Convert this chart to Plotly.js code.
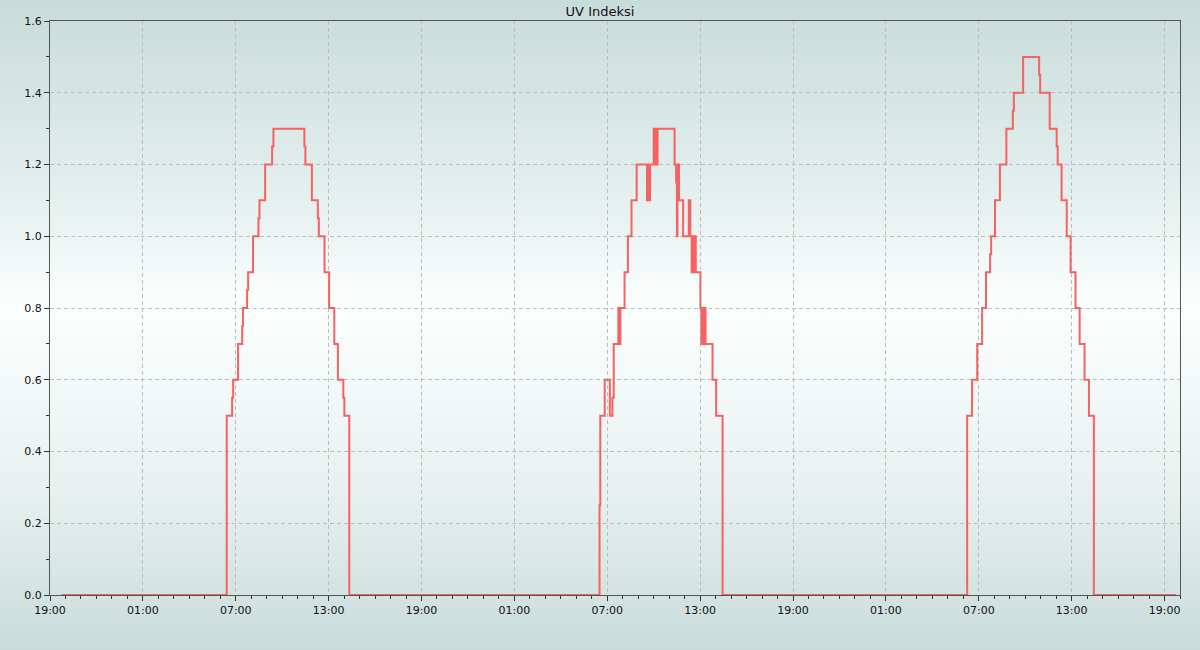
<!DOCTYPE html>
<html>
<head>
<meta charset="utf-8">
<script src="https://cdn.plot.ly/plotly-3.0.1.min.js"></script>
<style>
  html, body { margin: 0; padding: 0; }
  body { width: 1200px; height: 650px; background: linear-gradient(to bottom, #c8dcda 0%, #e4efee 30%, #fbfffe 47%, #e8f1f0 75%, #c8dcda 100%); }
  #chart { width: 1200px; height: 650px; }
</style>
</head>
<body>
<div id="chart"></div>
<script>
// Sample times (step changes) and UV index values
const times = [
  "2024-06-10 19:45",
  // Day 1
  "2024-06-11 06:25", "2024-06-11 06:46", "2024-06-11 06:50", "2024-06-11 07:09",
  "2024-06-11 07:25", "2024-06-11 07:28", "2024-06-11 07:44", "2024-06-11 07:48",
  "2024-06-11 08:07", "2024-06-11 08:28", "2024-06-11 08:32", "2024-06-11 08:54",
  "2024-06-11 09:21", "2024-06-11 09:26", "2024-06-11 11:26", "2024-06-11 11:30",
  "2024-06-11 11:55", "2024-06-11 12:18", "2024-06-11 12:22", "2024-06-11 12:44",
  "2024-06-11 13:02", "2024-06-11 13:22", "2024-06-11 13:36", "2024-06-11 13:57",
  "2024-06-11 14:01", "2024-06-11 14:20",
  // Day 2
  "2024-06-12 06:30", "2024-06-12 06:33", "2024-06-12 06:50", "2024-06-12 07:10",
  "2024-06-12 07:20", "2024-06-12 07:25", "2024-06-12 07:43", "2024-06-12 07:47",
  "2024-06-12 07:51", "2024-06-12 08:07", "2024-06-12 08:20", "2024-06-12 08:34",
  "2024-06-12 08:54", "2024-06-12 09:34", "2024-06-12 09:38", "2024-06-12 09:42",
  "2024-06-12 09:46", "2024-06-12 10:00", "2024-06-12 10:06", "2024-06-12 10:09",
  "2024-06-12 10:12", "2024-06-12 10:15", "2024-06-12 10:18", "2024-06-12 11:21",
  "2024-06-12 11:27", "2024-06-12 11:30", "2024-06-12 11:32", "2024-06-12 11:34",
  "2024-06-12 11:36", "2024-06-12 11:38", "2024-06-12 11:54", "2024-06-12 12:16",
  "2024-06-12 12:22", "2024-06-12 12:27", "2024-06-12 12:31", "2024-06-12 12:35",
  "2024-06-12 12:39", "2024-06-12 12:43", "2024-06-12 13:01", "2024-06-12 13:05",
  "2024-06-12 13:09", "2024-06-12 13:13", "2024-06-12 13:17", "2024-06-12 13:21",
  "2024-06-12 13:48", "2024-06-12 14:02", "2024-06-12 14:27",
  // Day 3
  "2024-06-13 06:15", "2024-06-13 06:34", "2024-06-13 06:54", "2024-06-13 07:13",
  "2024-06-13 07:28", "2024-06-13 07:44", "2024-06-13 07:48", "2024-06-13 08:03",
  "2024-06-13 08:22", "2024-06-13 08:47", "2024-06-13 09:12", "2024-06-13 09:16",
  "2024-06-13 09:52", "2024-06-13 10:54", "2024-06-13 10:58", "2024-06-13 11:35",
  "2024-06-13 12:02", "2024-06-13 12:06", "2024-06-13 12:21", "2024-06-13 12:41",
  "2024-06-13 12:56", "2024-06-13 13:15", "2024-06-13 13:31", "2024-06-13 13:50",
  "2024-06-13 14:07", "2024-06-13 14:26",
  "2024-06-13 19:45"
];
const uvIndex = [
  0,
  // Day 1
  0.5, 0.55, 0.6, 0.7,
  0.75, 0.8, 0.85, 0.9,
  1.0, 1.05, 1.1, 1.2,
  1.25, 1.3, 1.25, 1.2,
  1.1, 1.05, 1.0, 0.9,
  0.8, 0.7, 0.6, 0.55,
  0.5, 0,
  // Day 2
  0.25, 0.5, 0.6, 0.5,
  0.55, 0.7, 0.8, 0.7,
  0.8, 0.9, 1.0, 1.1,
  1.2, 1.1, 1.2, 1.1,
  1.2, 1.3, 1.2, 1.3,
  1.2, 1.3, 1.3, 1.2,
  1.15, 1.0, 1.2, 1.1,
  1.2, 1.1, 1.0, 1.1,
  1.0, 0.9, 1.0, 0.9,
  1.0, 0.9, 0.8, 0.7,
  0.8, 0.7, 0.8, 0.7,
  0.6, 0.5, 0,
  // Day 3
  0.5, 0.6, 0.7, 0.8,
  0.9, 0.95, 1.0, 1.1,
  1.2, 1.3, 1.35, 1.4,
  1.5, 1.45, 1.4, 1.3,
  1.25, 1.2, 1.1, 1.0,
  0.9, 0.8, 0.7, 0.6,
  0.5, 0,
  0
];
const chartTitle = "UV Indeksi";
const xRange = ["2024-06-10 19:00", "2024-06-13 20:00"];
const yRange = [0, 1.6];

const font = "DejaVu Sans, Verdana, sans-serif";

Plotly.newPlot("chart", [{
  x: times,
  y: uvIndex,
  type: "scatter",
  mode: "lines",
  line: { shape: "hv", color: "#f46262", width: 2 },
  hoverinfo: "x+y"
}], {
  width: 1200,
  height: 650,
  paper_bgcolor: "rgba(0,0,0,0)",
  plot_bgcolor: "rgba(0,0,0,0)",
  margin: { l: 50, r: 20, t: 21, b: 55, pad: 0 },
  showlegend: false,
  font: { family: font, size: 11, color: "#111" },
  title: {
    text: chartTitle,
    font: { family: font, size: 13, color: "#111" },
    x: 0.5, xanchor: "center",
    y: 1 - 11 / 650, yref: "container", yanchor: "middle"
  },
  xaxis: {
    type: "date",
    range: xRange,
    tick0: "2024-06-10 19:00",
    dtick: 6 * 3600 * 1000,
    tickformat: "%H:%M",
    ticks: "outside",
    ticklen: 5,
    tickcolor: "#333",
    showline: true,
    linecolor: "#555",
    linewidth: 1,
    mirror: true,
    showgrid: true,
    gridcolor: "#bdbdbd",
    griddash: "4px,3px",
    gridwidth: 1,
    zeroline: false,
    tickfont: { family: font, size: 11, color: "#111" },
    minor: { dtick: 3600 * 1000, ticks: "outside", ticklen: 3, tickcolor: "#333", showgrid: false }
  },
  yaxis: {
    range: yRange,
    dtick: 0.2,
    tick0: 0,
    tickformat: ".1f",
    ticks: "outside",
    ticklen: 5,
    tickcolor: "#333",
    showline: true,
    linecolor: "#555",
    linewidth: 1,
    mirror: true,
    showgrid: true,
    gridcolor: "#bdbdbd",
    griddash: "4px,3px",
    gridwidth: 1,
    zeroline: false,
    tickfont: { family: font, size: 11, color: "#111" },
    minor: { dtick: 0.1, ticks: "outside", ticklen: 3, tickcolor: "#333", showgrid: false }
  }
}, { displayModeBar: false, staticPlot: true });
</script>
</body>
</html>
